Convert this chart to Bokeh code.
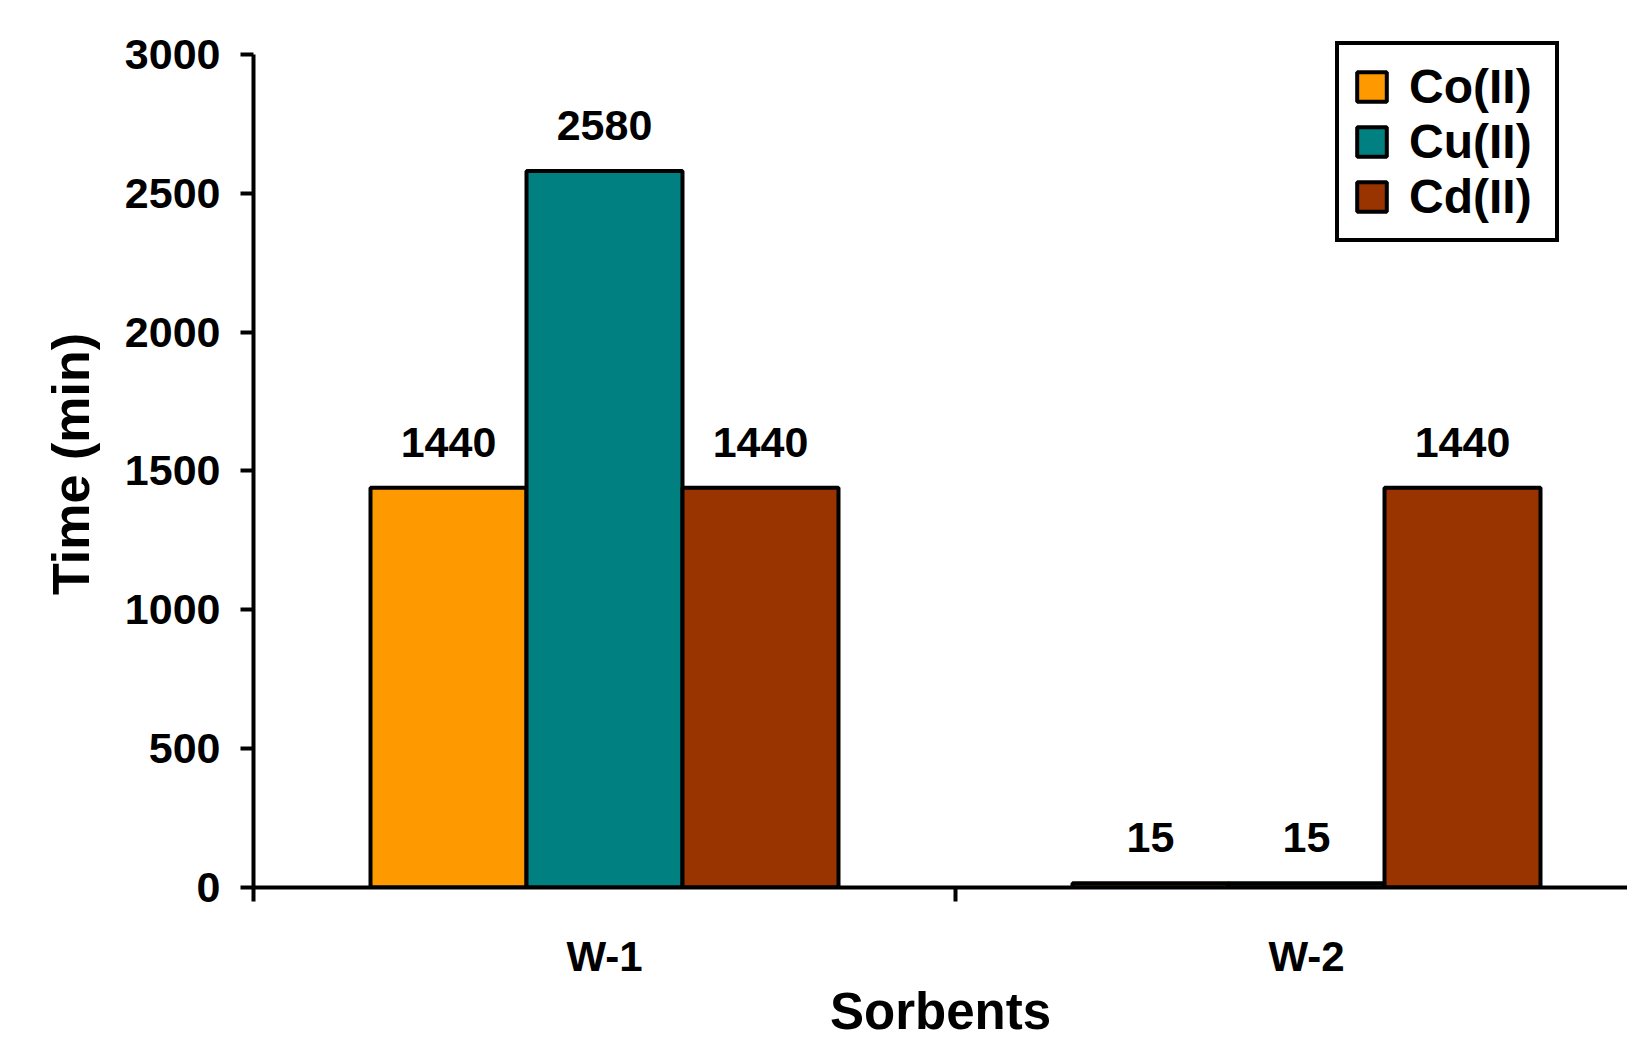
from bokeh.plotting import figure
from bokeh.models import (Range1d, FixedTicker, ColumnDataSource, LabelSet,
                          Legend, LegendItem)
from bokeh.core.properties import value
from bokeh.embed import file_html
from bokeh.resources import INLINE

# Breakthrough time of each ion on the two sorbents
sorbents = ["W-1", "W-2"]
ions = ["Co(II)", "Cu(II)", "Cd(II)"]
co_time = [1440, 15]
cu_time = [2580, 15]
cd_time = [1440, 1440]
colors = ["#FF9900", "#008080", "#993300"]
y_ticks = [0, 500, 1000, 1500, 2000, 2500, 3000]
y_max = 3000

FONT = "Liberation Sans"
W, H = 1627, 1042
LEFT, TOP, BOTTOM = 253, 40, 152
PX_PER_UNIT = 836.0 / y_max          # vertical scale of the value axis
FRAME_H = H - TOP - BOTTOM

p = figure(width=W, height=H, output_backend="svg", toolbar_location=None,
           x_range=Range1d(0, (W - LEFT) / 702.0),
           y_range=Range1d(0, FRAME_H / PX_PER_UNIT),
           min_border_left=LEFT, min_border_right=0, min_border_top=TOP,
           min_border_bottom=BOTTOM)
p.xgrid.visible = False
p.ygrid.visible = False
p.outline_line_color = None
p.background_fill_color = "white"
p.border_fill_color = "white"

bar_w = 2.0 / 9.0
offsets = [-bar_w, 0.0, bar_w]
series = [co_time, cu_time, cd_time]
renderers = []
for name, vals, off, col in zip(ions, series, offsets, colors):
    xs = [i + 0.5 + off for i in range(len(sorbents))]
    src = ColumnDataSource(dict(x=xs, top=vals, lab=[str(v) for v in vals]))
    r = p.vbar(x="x", top="top", width=bar_w, bottom=0, source=src,
               fill_color=col, line_color="black", line_width=4)
    renderers.append((name, r))
    p.add_layout(LabelSet(x="x", y="top", text="lab", source=src,
                          text_align="center", text_baseline="alphabetic",
                          y_offset=31, text_font=value(FONT),
                          text_font_style="bold", text_font_size="43px",
                          text_color="black"))

# x axis: category names centred, separator ticks between groups
xa = p.xaxis[0]
xa.ticker = FixedTicker(ticks=[0.5, 1.5], minor_ticks=[0, 1, 2])
xa.major_label_overrides = {0.5: "W-1", 1.5: "W-2"}
xa.major_tick_out = 0
xa.major_tick_in = 0
xa.minor_tick_out = 14
xa.minor_tick_in = 0
xa.minor_tick_line_width = 4
xa.minor_tick_line_color = "black"
xa.axis_line_width = 4
xa.axis_line_color = "black"
xa.major_label_text_font = FONT
xa.major_label_text_font_style = "bold"
xa.major_label_text_font_size = "42px"
xa.major_label_text_color = "black"
xa.major_label_standoff = 31
xa.axis_label = "Sorbents"
xa.axis_label_text_font = FONT
xa.axis_label_text_font_style = "bold"
xa.axis_label_text_font_size = "51px"
xa.axis_label_text_color = "black"
xa.axis_label_standoff = 0

# y axis: line and ticks stop at the top tick value
ya = p.yaxis[0]
ya.bounds = (0, y_max)
ya.ticker = FixedTicker(ticks=y_ticks)
ya.minor_tick_line_color = None
ya.major_tick_out = 13
ya.major_tick_in = 0
ya.major_tick_line_width = 4
ya.major_tick_line_color = "black"
ya.axis_line_width = 4
ya.axis_line_color = "black"
ya.major_label_text_font = FONT
ya.major_label_text_font_style = "bold"
ya.major_label_text_font_size = "43px"
ya.major_label_text_color = "black"
ya.major_label_standoff = 20
ya.axis_label = "Time (min)"
ya.axis_label_text_font = FONT
ya.axis_label_text_font_style = "bold"
ya.axis_label_text_font_size = "52px"
ya.axis_label_text_color = "black"
ya.axis_label_standoff = 22

legend = Legend(items=[LegendItem(label=n, renderers=[r]) for n, r in renderers],
                location=(1082, 645), orientation="vertical",
                glyph_width=37, glyph_height=37, label_standoff=19,
                label_width=132,
                label_text_font=FONT, label_text_font_style="bold",
                label_text_font_size="48px", label_text_color="black",
                spacing=0, padding=14, margin=0,
                border_line_color="black", border_line_width=4,
                border_line_alpha=1.0,
                background_fill_color="white", background_fill_alpha=1.0)
p.add_layout(legend)

open("out.html", "w").write(file_html(p, INLINE))
